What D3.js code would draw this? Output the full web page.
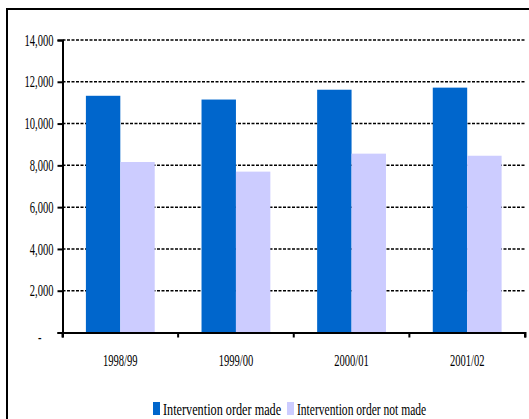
<!DOCTYPE html>
<html>
<head>
<meta charset="utf-8">
<script src="https://cdn.jsdelivr.net/npm/d3@7"></script>
<style>
  body { margin: 0; background: #fff; }
  svg { display: block; }
  text { font-family: "Liberation Serif", "Times New Roman", serif; fill: #000; }
</style>
</head>
<body>
<svg width="529" height="419"></svg>
<script>
var years = ["1998/99", "1999/00", "2000/01", "2001/02"];
var seriesNames = ["Intervention order made", "Intervention order not made"];
var orderMade = [11330, 11150, 11620, 11720];
var orderNotMade = [8160, 7700, 8560, 8460];
var yTicks = [0, 2000, 4000, 6000, 8000, 10000, 12000, 14000];
var colors = ["#0066cc", "#ccccff"];

var svg = d3.select("svg");
var plotLeft = 62.5, plotRight = 525, plotTop = 40, plotBottom = 332.5;

// squash glyphs horizontally, like the narrow serif in the original
function condense(sel, k) {
  sel.each(function() {
    var w = this.getComputedTextLength();
    d3.select(this)
      .attr("textLength", w * k)
      .attr("lengthAdjust", "spacingAndGlyphs");
  });
}

svg.append("rect")
    .attr("x", 7)
    .attr("y", 9)
    .attr("width", 560)
    .attr("height", 440)
    .attr("fill", "none")
    .attr("stroke", "#000")
    .attr("stroke-width", 2);

var x0 = d3.scaleBand()
    .domain(years)
    .range([plotLeft, plotRight]);

var x1 = d3.scaleBand()
    .domain(seriesNames)
    .range([0, x0.bandwidth()])
    .paddingOuter(0.68);

var y = d3.scaleLinear()
    .domain([0, 14000])
    .range([plotBottom, plotTop]);

// grid
svg.append("g")
  .selectAll("line")
  .data(yTicks.filter(d => d > 0))
  .enter()
  .append("line")
    .attr("x1", plotLeft)
    .attr("x2", plotRight + 1)
    .attr("y1", d => y(d))
    .attr("y2", d => y(d))
    .attr("stroke", "#000")
    .attr("stroke-width", 1.5)
    .attr("stroke-dasharray", "3,1.5");

var data = [];
years.forEach(function(yr, i) {
  data.push({ year: yr, series: seriesNames[0], value: orderMade[i], c: colors[0] });
  data.push({ year: yr, series: seriesNames[1], value: orderNotMade[i], c: colors[1] });
});

svg.append("g")
  .selectAll("rect")
  .data(data)
  .enter()
  .append("rect")
    .attr("x", d => x0(d.year) + x1(d.series))
    .attr("width", x1.bandwidth())
    .attr("y", d => y(d.value))
    .attr("height", d => plotBottom - y(d.value))
    .attr("fill", d => d.c);

var yAxis = d3.axisLeft(y)
    .tickValues(yTicks)
    .tickSize(5)
    .tickPadding(4)
    .tickFormat(d => d === 0 ? "-" : d3.format(",")(d));

var gy = svg.append("g")
    .attr("transform", "translate(" + plotLeft + ",0)")
    .call(yAxis);
gy.select(".domain").attr("stroke-width", 2);
gy.selectAll(".tick line").attr("stroke-width", 2);
gy.selectAll(".tick text")
    .style("font-size", "16px")
    .style("font-family", "Liberation Serif")
    .call(condense, 0.66);
gy.selectAll(".tick text").filter(d => d === 0).attr("dx", -12).attr("dy", "0.6em");

var xAxis = d3.axisBottom(x0)
    .tickSize(5)
    .tickSizeOuter(5)
    .tickFormat("");

var gx = svg.append("g")
    .attr("transform", "translate(0," + plotBottom + ")")
    .call(xAxis);
gx.select(".domain").attr("stroke-width", 2);
gx.selectAll(".tick").remove();

// ticks at the band boundaries
gx.selectAll(".sep")
  .data(years.map(d => x0(d)).concat([plotRight]))
  .enter()
  .append("line")
    .attr("x1", d => d)
    .attr("x2", d => d)
    .attr("y1", 0)
    .attr("y2", 5)
    .attr("stroke", "#000")
    .attr("stroke-width", 2);

svg.append("g")
  .selectAll("text")
  .data(years)
  .enter()
  .append("text")
    .text(d => d)
    .attr("x", d => x0(d) + x0.bandwidth() / 2)
    .attr("y", 366)
    .style("text-anchor", "middle")
    .style("font-size", "16px")
    .call(condense, 0.66);

// legend
var legendX = [153, 287];
var legendSquash = [0.72, 0.68];
var legend = svg.append("g");
seriesNames.forEach(function(name, i) {
  legend.append("rect")
      .attr("x", legendX[i])
      .attr("y", 402)
      .attr("width", 7)
      .attr("height", 13)
      .attr("fill", colors[i]);
  legend.append("g")
      .attr("transform", "translate(" + (legendX[i] + 10) + ",415) scale(" + legendSquash[i] + ",1)")
    .append("text")
      .text(name)
      .style("font-size", "17px");
});
</script>
</body>
</html>
